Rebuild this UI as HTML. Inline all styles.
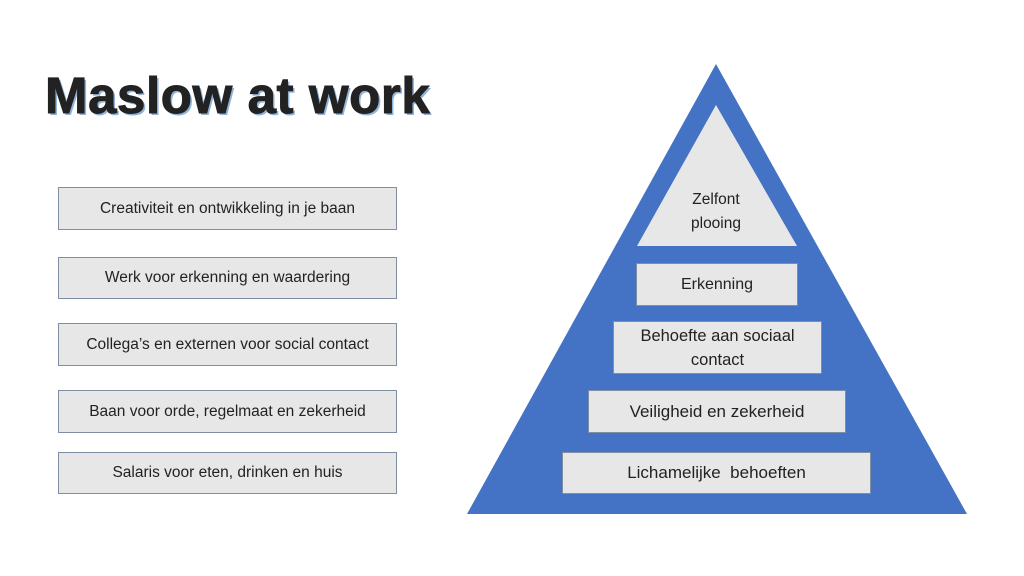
<!DOCTYPE html>
<html><head><meta charset="utf-8"><style>
body{margin:0;width:1024px;height:576px;background:#fff;position:relative;overflow:hidden;font-family:"Liberation Sans",sans-serif}
.t{position:absolute;left:45px;top:66px;font-size:51px;font-weight:bold;color:#222;letter-spacing:0.6px;text-shadow:2px 2px 0 #8fb3d9;-webkit-text-stroke:1px #222}
.b{position:absolute;background:#e8e7e8;border:1px solid #7f8ea3;box-sizing:border-box;display:flex;align-items:center;justify-content:center;text-align:center;color:#222;font-size:15.5px;line-height:20px}
</style></head><body>
<div class="t">Maslow at work</div>
<div class="b" style="left:58px;top:187px;width:339px;height:43px">Creativiteit en ontwikkeling in je baan</div>
<div class="b" style="left:58px;top:257px;width:339px;height:42px">Werk voor erkenning en waardering</div>
<div class="b" style="left:58px;top:323px;width:339px;height:43px">Collega’s en externen voor social contact</div>
<div class="b" style="left:58px;top:390px;width:339px;height:43px">Baan voor orde, regelmaat en zekerheid</div>
<div class="b" style="left:58px;top:452px;width:339px;height:42px">Salaris voor eten, drinken en huis</div>
<svg width="1024" height="576" style="position:absolute;left:0;top:0">
<polygon points="716,64 967,514 467,514" fill="#4472c4"/>
<polygon points="716,105 797,246 637,246" fill="#e8e7e8"/>
<text x="716" y="204" font-size="15.5" text-anchor="middle" fill="#222" font-family="Liberation Sans">Zelfont</text>
<text x="716" y="228" font-size="15.5" text-anchor="middle" fill="#222" font-family="Liberation Sans">plooing</text>
</svg>
<div class="b" style="left:636px;top:263px;width:162px;height:43px;font-size:16px">Erkenning</div>
<div class="b" style="left:613px;top:321px;width:209px;height:53px;font-size:16.5px;line-height:24px">Behoefte aan sociaal<br>contact</div>
<div class="b" style="left:588px;top:390px;width:258px;height:43px;font-size:17px">Veiligheid en zekerheid</div>
<div class="b" style="left:562px;top:452px;width:309px;height:42px;font-size:17px">Lichamelijke&nbsp; behoeften</div>
</body></html>
